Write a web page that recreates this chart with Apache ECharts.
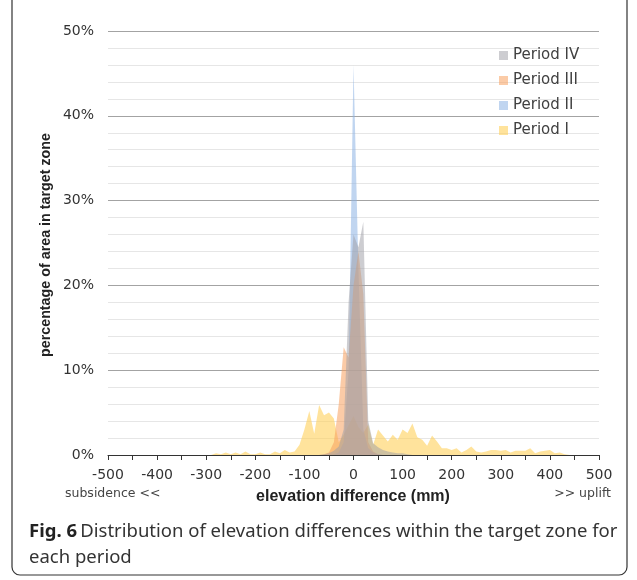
<!DOCTYPE html>
<html>
<head>
<meta charset="utf-8">
<script src="https://cdn.jsdelivr.net/npm/echarts@6/dist/echarts.min.js"></script>
<style>
html,body{margin:0;padding:0;background:#fff;}
#chart{width:637px;height:580px;}
</style>
</head>
<body>
<div id="chart"></div>
<script>
// elevation difference bins (mm)
const elevation = [
  -500,-490,-480,-470,-460,-450,-440,-430,-420,-410,
  -400,-390,-380,-370,-360,-350,-340,-330,-320,-310,
  -300,-290,-280,-270,-260,-250,-240,-230,-220,-210,
  -200,-190,-180,-170,-160,-150,-140,-130,-120,-110,
  -100,-90,-80,-70,-60,-50,-40,-30,-20,-10,
  0,10,20,30,40,50,60,70,80,90,
  100,110,120,130,140,150,160,170,180,190,
  200,210,220,230,240,250,260,270,280,290,
  300,310,320,330,340,350,360,370,380,390,
  400,410,420,430,440,450,460,470,480,490,
  500
];
// percentage of area per bin
const periodI = [
  0,0,0,0,0,0,0,0,0,0,
  0,0,0,0,0,0,0,0,0,0,
  0,0,0.2,0.1,0.3,0.1,0.3,0.1,0.4,0.1,
  0.1,0.3,0.1,0.1,0.4,0.2,0.6,0.3,0.4,1.2,
  3.0,5.2,2.5,5.9,4.7,5.0,4.3,1.5,2.4,3.5,
  4.6,3.3,2.6,3.6,1.2,3.0,2.3,1.6,2.4,1.8,
  3.0,2.6,3.7,2.1,1.8,1.1,2.3,1.6,0.8,0.8,
  0.6,0.8,0.3,0.6,1.0,0.4,0.3,0.4,0.6,0.6,
  0.5,0.6,0.3,0.5,0.5,0.5,0.8,0.2,0.4,0.5,
  0.6,0.2,0.3,0.1,0,0,0,0,0,0,
  0
];
const periodII = [
  0,0,0,0,0,0,0,0,0,0,
  0,0,0,0,0,0,0,0,0,0,
  0,0,0,0,0,0,0,0,0,0,
  0,0,0,0,0,0,0,0,0,0,
  0,0,0,0,0,0,0.1,0.3,1.5,10,
  46,22,3,0.8,0.3,0.1,0,0,0,0,
  0,0,0,0,0,0,0,0,0,0,
  0,0,0,0,0,0,0,0,0,0,
  0,0,0,0,0,0,0,0,0,0,
  0,0,0,0,0,0,0,0,0,0,
  0
];
const periodIII = [
  0,0,0,0,0,0,0,0,0,0,
  0,0,0,0,0,0,0,0,0,0,
  0,0,0,0,0,0,0,0,0,0,
  0,0,0,0,0,0,0,0,0,0,
  0,0,0,0,0.1,0.3,1.5,6,12.7,11.5,
  20,24,19,1.5,0.4,0.1,0,0,0,0,
  0,0,0,0,0,0,0,0,0,0,
  0,0,0,0,0,0,0,0,0,0,
  0,0,0,0,0,0,0,0,0,0,
  0,0,0,0,0,0,0,0,0,0,
  0
];
const periodIV = [
  0,0,0,0,0,0,0,0,0,0,
  0,0,0,0,0,0,0,0,0,0,
  0,0,0,0,0,0,0,0,0,0,
  0,0,0,0,0,0,0,0,0,0,
  0,0,0,0,0.1,0.2,0.5,1,3,18,
  26,24.5,27.5,4,1.4,0.9,0.6,0.4,0.3,0.2,
  0.2,0.1,0,0,0,0,0,0,0,0,
  0,0,0,0,0,0,0,0,0,0,
  0,0,0,0,0,0,0,0,0,0,
  0,0,0,0,0,0,0,0,0,0,
  0
];
const seriesNames = ['Period I','Period II','Period III','Period IV'];
const legendOrder = ['Period IV','Period III','Period II','Period I'];
const yTicks = [0,10,20,30,40,50];

const colors = {
  'Period I': 'rgba(255,208,90,0.6)',
  'Period II': 'rgba(140,178,228,0.55)',
  'Period III': 'rgba(248,160,95,0.55)',
  'Period IV': 'rgba(160,160,166,0.52)'
};
const values = {'Period I':periodI,'Period II':periodII,'Period III':periodIII,'Period IV':periodIV};

const chart = echarts.init(document.getElementById('chart'), null, {renderer:'canvas'});
const font = 'DejaVu Sans';
chart.setOption({
  animation:false,
  backgroundColor:'#fff',
  grid:{left:108,right:38,top:31,bottom:125,containLabel:false},
  legend:{
    orient:'vertical', left:494, top:43, icon:'rect', itemWidth:9, itemHeight:9, itemGap:10,
    data:legendOrder,
    textStyle:{fontFamily:font,fontSize:15,color:'#404040',lineHeight:15}
  },
  xAxis:{
    type:'value', min:-500, max:500, interval:100,
    axisLine:{show:true,lineStyle:{color:'#333',width:1}},
    axisTick:{show:true,length:5,lineStyle:{color:'#333'}},
    minorTick:{show:true,splitNumber:2,length:5,lineStyle:{color:'#333'}},
    splitLine:{show:false},
    axisLabel:{fontFamily:font,fontSize:14,color:'#333',margin:13}
  },
  yAxis:{
    type:'value', min:yTicks[0], max:yTicks[yTicks.length-1], interval:10,
    axisLine:{show:false}, axisTick:{show:false},
    minorTick:{show:false,splitNumber:5},
    splitLine:{show:true,lineStyle:{color:'#a3a3a3',width:1}},
    minorSplitLine:{show:true,lineStyle:{color:'#e6e6e6',width:1}},
    axisLabel:{fontFamily:font,fontSize:14,color:'#333',margin:14,formatter:'{value}%'}
  },
  series: seriesNames.map(n=>({
    name:n, type:'line', showSymbol:false, symbol:'none', smooth:false,
    data: elevation.map((x,i)=>[x, values[n][i]]),
    itemStyle:{color:colors[n]},
    lineStyle:{width:0,opacity:0},
    areaStyle:{color:colors[n],opacity:1}
  })),
  graphic:[
    {type:'rect',shape:{x:12,y:-20,width:615,height:595,r:8},style:{fill:'none',stroke:'#333',lineWidth:1.2},silent:true},
    {type:'text',x:46,y:245,rotation:Math.PI/2,style:{text:'percentage of area in target zone',font:'bold 14.3px "Liberation Sans"',fill:'#222',align:'center',verticalAlign:'middle'}},
    {type:'text',x:353,y:497,style:{text:'elevation difference (mm)',font:'bold 16px "Liberation Sans"',fill:'#222',align:'center',verticalAlign:'middle'}},
    {type:'text',x:65,y:494,style:{text:'subsidence <<',font:'12.5px "DejaVu Sans"',fill:'#444',align:'left',verticalAlign:'middle'}},
    {type:'text',x:611,y:494,style:{text:'>> uplift',font:'12.5px "DejaVu Sans"',fill:'#444',align:'right',verticalAlign:'middle'}},
    {type:'text',x:29,y:532,style:{rich:{b:{font:'bold 18.5px "Noto Sans"',fill:'#222'},n:{font:'18.5px "Noto Sans"',fill:'#333'}},text:'{b|Fig. 6} {n|Distribution of elevation differences within the target zone for}',verticalAlign:'middle'}},
    {type:'text',x:29,y:558,style:{text:'each period',font:'18.5px "Noto Sans"',fill:'#333',verticalAlign:'middle'}}
  ]
});
</script>
</body>
</html>
